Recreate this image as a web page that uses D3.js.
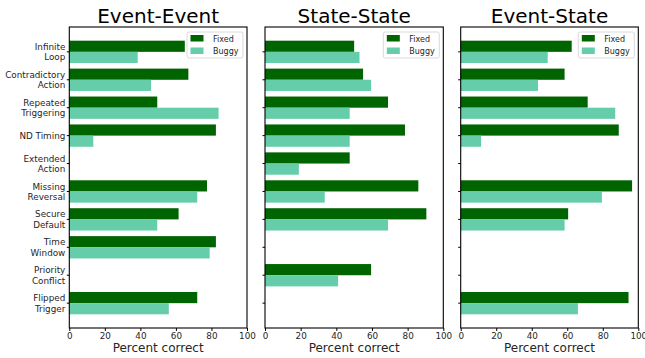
<!DOCTYPE html>
<html>
<head>
<meta charset="utf-8">
<script src="https://cdn.jsdelivr.net/npm/d3@7"></script>
<style>
  body { margin: 0; background: #fff; }
  svg { display: block; font-family: "DejaVu Sans", sans-serif; }
</style>
</head>
<body>
<svg width="645" height="358"></svg>
<script>
// Categories (top to bottom), null = no bar
const categories = [
  "Infinite\nLoop", "Contradictory\nAction", "Repeated\nTriggering", "ND Timing",
  "Extended\nAction", "Missing\nReversal", "Secure\nDefault", "Time\nWindow",
  "Priority\nConflict", "Flipped\nTrigger"
];
const panelTitles = ["Event-Event", "State-State", "Event-State"];

const eventEventFixed = [65, 67, 49.5, 82.5, null, 77.5, 61.5, 82.5, null, 72];
const eventEventBuggy = [38.5, 46, 84, 13.5, null, 72, 49.5, 79, null, 56];
const stateStateFixed = [50, 55, 69, 78.5, 47.5, 86, 90.5, null, 59.5, null];
const stateStateBuggy = [53, 59.5, 47.5, 47.5, 19, 33.5, 69, null, 41, null];
const eventStateFixed = [62.5, 58.5, 71.5, 89, null, 96.5, 60.5, null, null, 94.5];
const eventStateBuggy = [49, 43.5, 87, 11.5, null, 79.5, 58.5, null, null, 66];

const xTicks = [0, 20, 40, 60, 80, 100];
const seriesNames = ["Fixed", "Buggy"];
const seriesColors = ["#006400", "#66cdaa"];

const panels = [
  { title: panelTitles[0], fixed: eventEventFixed, buggy: eventEventBuggy, x0: 69.3, x1: 247, labels: true },
  { title: panelTitles[1], fixed: stateStateFixed, buggy: stateStateBuggy, x0: 265, x1: 443.3, labels: false },
  { title: panelTitles[2], fixed: eventStateFixed, buggy: eventStateBuggy, x0: 460.7, x1: 638.3, labels: false }
];

const svg = d3.select("svg");
const plotTop = 27, plotBottom = 328;
const barH = 0.4;

// matplotlib style: bars span -0.4..9.4 plus 5% margins
const y = d3.scaleLinear().domain([-0.89, 9.89]).range([plotTop, plotBottom]);

panels.forEach(p => {
  const x = d3.scaleLinear().domain([0, 100]).range([p.x0, p.x1]);
  const g = svg.append("g");

  const rows = categories.map((c, i) => ({ i, fixed: p.fixed[i], buggy: p.buggy[i] }));

  // Fixed bars sit above the tick, buggy below
  g.selectAll(".fixed")
    .data(rows.filter(d => d.fixed != null))
    .enter().append("rect")
    .attr("x", x(0))
    .attr("y", d => y(d.i - barH))
    .attr("width", d => x(d.fixed) - x(0))
    .attr("height", y(barH) - y(0))
    .attr("fill", seriesColors[0]);

  g.selectAll(".buggy")
    .data(rows.filter(d => d.buggy != null))
    .enter().append("rect")
    .attr("x", x(0))
    .attr("y", d => y(d.i))
    .attr("width", d => x(d.buggy) - x(0))
    .attr("height", y(barH) - y(0))
    .attr("fill", seriesColors[1]);

  // frame
  g.append("rect")
    .attr("x", p.x0).attr("y", plotTop)
    .attr("width", p.x1 - p.x0).attr("height", plotBottom - plotTop)
    .attr("fill", "none").attr("stroke", "#000").attr("stroke-width", 1.1);

  // x axis
  const xAxis = g.append("g")
    .attr("transform", `translate(0,${plotBottom})`)
    .call(d3.axisBottom(x).tickValues(xTicks).tickSize(3).tickPadding(1.5));
  xAxis.select(".domain").remove();
  xAxis.selectAll("text").attr("font-size", 8.8).attr("fill", "#262626")
    .attr("font-family", "DejaVu Sans");

  g.append("text")
    .attr("x", (p.x0 + p.x1) / 2).attr("y", 352)
    .attr("text-anchor", "middle").attr("font-size", 12).attr("fill", "#262626")
    .text("Percent correct");

  // y ticks
  const yTicks = g.selectAll(".ytick").data(categories).enter().append("g")
    .attr("transform", (d, i) => `translate(${p.x0},${y(i)})`);
  yTicks.append("line").attr("x1", -2.5).attr("x2", 0).attr("stroke", "#000").attr("stroke-width", 1);

  if (p.labels) {
    const t = yTicks.append("text")
      .attr("text-anchor", "end").attr("font-size", 8.8).attr("fill", "#262626");
    t.each(function(d) {
      const lines = d.split("\n");
      const sel = d3.select(this);
      lines.forEach((ln, k) => {
        sel.append("tspan")
          .attr("x", -4)
          .attr("y", (k - (lines.length - 1) / 2) * 10.5 + 3.3)
          .text(ln);
      });
    });
  }

  // title
  g.append("text")
    .attr("x", (p.x0 + p.x1) / 2).attr("y", 23)
    .attr("text-anchor", "middle").attr("font-size", 20).attr("fill", "#000")
    .text(p.title);

  // legend
  const lx = p.x1 - 60, ly = plotTop + 5;
  const leg = g.append("g").attr("transform", `translate(${lx},${ly})`);
  leg.append("rect").attr("x", 0).attr("y", 0).attr("width", 56).attr("height", 26)
    .attr("rx", 2).attr("fill", "#fff").attr("fill-opacity", 0.8)
    .attr("stroke", "#d0d0d0").attr("stroke-width", 0.8);
  seriesNames.forEach((s, k) => {
    leg.append("rect").attr("x", 3.5).attr("y", 3 + k * 12.5).attr("width", 13).attr("height", 6.5)
      .attr("fill", seriesColors[k]);
    leg.append("text").attr("x", 26).attr("y", 9.5 + k * 12.5)
      .attr("font-size", 8).attr("fill", "#262626").text(s);
  });
});
</script>
</body>
</html>
